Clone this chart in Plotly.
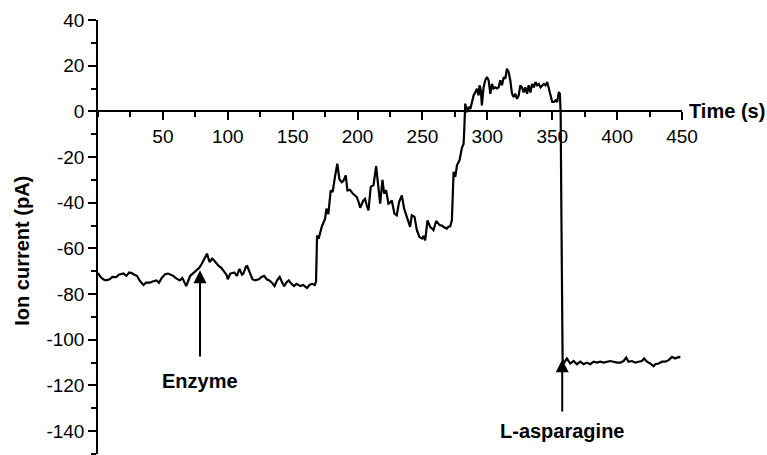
import plotly.graph_objects as go

# ---- data ----
time_s = [
    0, 2, 4, 6, 9, 11, 14, 16, 19.5, 22, 24, 26, 28, 30, 32, 35, 37, 40, 42, 45,
    47, 49, 51.7, 54, 56, 58, 60, 63, 65, 68, 70, 71, 73, 76, 78, 80, 82.5, 84, 86, 88,
    89, 91, 93, 95, 97, 99, 100, 102, 105, 107, 109, 111, 112, 114, 115, 117, 119, 121, 124, 126,
    128, 130, 132, 134, 136, 138, 140, 142, 143.5, 145, 147, 149, 151, 153, 156, 158, 161, 163, 165, 167,
    168, 168.8, 170, 172.4, 175, 176, 177.5, 179.3, 180.8, 182.6, 184.4, 186, 187.8, 189, 190.9, 192.2, 194.2, 196.3, 198, 199.4,
    201, 202, 204.5, 205.8, 207, 208.4, 210.2, 212.3, 214.3, 215.6, 217.4, 219.2, 220.5, 222, 223.8, 225, 226.4, 228.4, 230.2, 232,
    234.1, 235.9, 238, 239, 240.5, 241.8, 243.9, 245.7, 247.7, 249.8, 251, 252.1, 253.9, 256, 258.5, 260.6, 262, 263.2, 265, 266.3,
    268.8, 270, 271.4, 272.7, 274, 275.3, 276.6, 278.6, 280.4, 281.7, 282.3, 283, 284.3, 285.6, 286.9, 288.2, 289.4, 290.7, 292, 293.3,
    294, 295, 295.8, 297.1, 298.4, 299.7, 301, 302.3, 303.6, 304.8, 306.1, 307.4, 308.7, 310, 311.3, 312.6, 313.9, 315.1, 316.4, 317.7,
    319, 320.3, 321.6, 322.9, 324.2, 325.4, 326.7, 328, 329.3, 330.6, 331.9, 333.2, 334.5, 335.8, 337.1, 338.4, 339.7, 341, 342.2, 343.5,
    344.8, 346.1, 347.4, 348.7, 350, 351.3, 352.6, 353.8, 355.1, 355.9, 356.5, 357, 357.5, 358, 358.8, 361.3, 363.9, 366.5, 369, 371.6,
    374.2, 376.7, 379.3, 381.9, 384.4, 387, 389.6, 392.1, 394.7, 397.3, 399.8, 402.4, 405, 407, 408.8, 411.4, 414, 416.5, 419.1, 420.9,
    423, 425.6, 428.1, 429.4, 432, 434.6, 437.1, 439.7, 442.3, 444.8, 447.4, 448.7,
]
current_pA = [
    -70.8, -72.5, -73.5, -74, -73.5, -72.5, -72.6, -71.5, -71, -72, -70.5, -70.8, -71.5, -72, -74, -76, -75, -75, -74.5, -74,
    -75, -73, -71.3, -71, -71.5, -72, -73, -74, -73, -76.5, -73.5, -72, -71, -69.6, -68.5, -66.7, -64, -62.3, -66, -64.5,
    -65, -66.5, -67.7, -68.5, -70, -71.5, -73.5, -71, -70.5, -72, -69, -71.5, -71, -68, -67.8, -71, -73.5, -74, -73.5, -72.5,
    -72, -73.5, -74, -75, -76.5, -74, -72.5, -75, -76.5, -75, -74, -75.5, -76.5, -75.5, -76.5, -76, -77.3, -76, -75.5, -76,
    -74.5, -54.3, -55.8, -50.6, -47, -42.6, -45, -34.6, -35.3, -28.7, -22.9, -29.7, -31, -30.5, -28, -34.6, -34.4, -36, -37, -37.5,
    -40, -42.2, -39, -38.3, -41, -43.3, -33, -32.3, -24, -30, -40.4, -30, -36, -34.5, -40.4, -40, -39, -44.8, -45.5, -39.7,
    -36.8, -42.6, -46.2, -47.5, -50.6, -45.5, -46.2, -52, -55, -55.7, -54.5, -56.5, -47.7, -50.6, -52, -48, -49, -49.8, -50, -50.6,
    -51.3, -50.5, -50.3, -47.7, -26.5, -28.7, -23.6, -21.4, -16, -14.3, -6.9, 3.4, -0.3, 2, 1, 4, 7, 8.3, 9.9, 7,
    11.4, 9.2, 2.6, 10.5, 13.6, 15, 13.6, 7.7, 12, 10, 10.5, 10, 10.5, 13.6, 11.4, 15, 14.3, 18.7, 17.2, 13.6,
    7.7, 6.3, 7.7, 5.5, 7, 11.4, 10.5, 8.3, 10.5, 7.7, 11.4, 8.3, 12, 10.5, 12.8, 11.4, 12, 10.5, 11.4, 12,
    11.4, 12.8, 10, 6.3, 4.1, 4.1, 4.8, 4.1, 8.5, 7.7, -1, -40, -80, -108.5, -110.4, -108.2, -110.4, -109.3, -110.7, -109.6,
    -110.7, -110, -110.7, -109.6, -110, -109.6, -110, -109.6, -109.3, -109.6, -110, -110, -109.3, -107.8, -109.6, -109.3, -110, -109.6, -109.3, -108.2,
    -109.6, -110.4, -111.6, -110.7, -110.4, -109.6, -109.6, -108.9, -107.5, -108.2, -107.5, -107.8,
]

x_tick_vals = [50, 100, 150, 200, 250, 300, 350, 400, 450]
y_tick_vals = [-140, -120, -100, -80, -60, -40, -20, 0, 20, 40]
x_range = [0, 450]
y_range = [-150, 40]

# annotations: (label, arrow x, arrow tip y, arrow tail y, label y)
enzyme = ("Enzyme", 78.6, -69.6, -108, -118)
asparagine = ("L-asparagine", 357.7, -108.5, -132, -140)

FONT = "Liberation Sans, Arial, sans-serif"

fig = go.Figure()
fig.add_trace(go.Scatter(x=time_s, y=current_pA, mode="lines",
                         line=dict(color="black", width=2.2), showlegend=False,
                         hoverinfo="skip"))

y_pos_of_zero = (0 - y_range[0]) / (y_range[1] - y_range[0])

fig.update_layout(
    width=767, height=455,
    margin=dict(l=98, r=85, t=20, b=1),
    paper_bgcolor="white", plot_bgcolor="white",
    font=dict(family=FONT, size=19, color="black"),
    xaxis=dict(
        range=x_range, anchor="free", position=y_pos_of_zero,
        showline=True, linecolor="black", linewidth=1.5,
        showgrid=False, zeroline=False,
        tickmode="array", tickvals=x_tick_vals,
        ticktext=[str(v) for v in x_tick_vals],
        ticks="outside", ticklen=8, tickwidth=1.5, tickcolor="black",
        minor=dict(tickmode="linear", tick0=0, dtick=25, ticks="outside",
                   ticklen=5, tickwidth=1.5, tickcolor="black"),
        tickfont=dict(size=19),
    ),
    yaxis=dict(
        range=y_range, anchor="x",
        showline=True, linecolor="black", linewidth=1.5,
        showgrid=False, zeroline=False,
        tickmode="array", tickvals=y_tick_vals,
        ticktext=[str(v) for v in y_tick_vals],
        ticks="outside", ticklen=8, tickwidth=1.5, tickcolor="black",
        minor=dict(tickmode="linear", tick0=0, dtick=10, ticks="outside",
                   ticklen=5, tickwidth=1.5, tickcolor="black"),
        tickfont=dict(size=19),
    ),
)

# axis titles
fig.add_annotation(text="<b>Time (s)</b>", xref="paper", yref="y", x=1, y=0,
                   xanchor="left", yanchor="middle", xshift=5, showarrow=False,
                   font=dict(size=20))
fig.add_annotation(text="<b>Ion current (pA)</b>", xref="paper", yref="y",
                   x=0, y=-61, xanchor="center", yanchor="middle", xshift=-76,
                   textangle=-90, showarrow=False, font=dict(size=20))

for label, ax_x, tip_y, tail_y, lab_y in (enzyme, asparagine):
    fig.add_annotation(x=ax_x, y=tip_y, ax=ax_x, ay=tail_y, xref="x", yref="y",
                       axref="x", ayref="y", text="", showarrow=True,
                       arrowhead=2, arrowsize=1.3, arrowwidth=2, arrowcolor="black")
    fig.add_annotation(x=ax_x, y=lab_y, xref="x", yref="y", text=f"<b>{label}</b>",
                       showarrow=False, xanchor="center", yanchor="middle",
                       font=dict(size=20))

fig.write_html("out.html")
